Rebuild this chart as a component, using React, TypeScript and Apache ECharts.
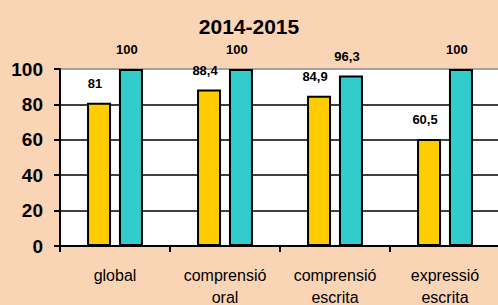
import React, { useEffect, useRef } from "react";
import * as echarts from "echarts";

const categories = ["global", "comprensió\noral", "comprensió\nescrita", "expressió\nescrita"];
const seriesA = [81, 88.4, 84.9, 60.5];
const seriesB = [100, 100, 96.3, 100];
const yTicks = { min: 0, max: 100, interval: 20 };
const title = "2014-2015";

const fmt = (v: number) => String(v).replace(".", ",");

export default function App() {
  const ref = useRef<HTMLDivElement>(null);
  useEffect(() => {
    document.body.style.margin = "0";
    const chart = echarts.init(ref.current!, null, { renderer: "svg" });
    const font = "'Liberation Sans', Arial, sans-serif";
    const label = {
      show: true,
      position: "top",
      distance: 13,
      offset: [-4, 0],
      fontFamily: font,
      fontWeight: "bold",
      fontSize: 13,
      color: "#000",
      formatter: (p: any) => fmt(p.value),
    };
    chart.setOption({
      animation: false,
      backgroundColor: "#FAD5B5",
      title: {
        text: title,
        left: "center",
        top: 11,
        textStyle: { fontFamily: font, fontWeight: "bold", fontSize: 21, color: "#000" },
      },
      grid: {
        left: 60,
        top: 69,
        bottom: 59,
        width: 440,
        show: true,
        backgroundColor: "#fff",
        borderColor: "#999",
        borderWidth: 1,
        containLabel: false,
        outerBoundsMode: "none",
      },
      xAxis: {
        type: "category",
        data: categories,
        axisLine: { lineStyle: { color: "#000", width: 2 } },
        axisTick: { show: true, length: 6, lineStyle: { color: "#000", width: 2 } },
        axisLabel: {
          interval: 0,
          margin: 18,
          fontFamily: font,
          fontSize: 16,
          lineHeight: 22,
          color: "#000",
        },
      },
      yAxis: {
        type: "value",
        min: yTicks.min,
        max: yTicks.max,
        interval: yTicks.interval,
        axisLine: { show: true, lineStyle: { color: "#000", width: 2 } },
        axisTick: { show: true, length: 6, lineStyle: { color: "#000", width: 2 } },
        axisLabel: {
          margin: 17,
          fontFamily: font,
          fontWeight: "bold",
          fontSize: 19,
          color: "#000",
        },
        splitLine: {
          show: true,
          lineStyle: { color: ["#000", "#000", "#000", "#000", "#000", "#999"], width: 1.6 },
        },
      },
      series: [
        {
          type: "bar",
          data: seriesA,
          barWidth: 24,
          barGap: "33%",
          itemStyle: { color: "#FFCC00", borderColor: "#000", borderWidth: 2 },
          label,
        },
        {
          type: "bar",
          data: seriesB,
          barWidth: 24,
          itemStyle: { color: "#33CCCC", borderColor: "#000", borderWidth: 2 },
          label,
        },
      ],
    });
    return () => chart.dispose();
  }, []);
  return <div ref={ref} style={{ width: 498, height: 305 }} />;
}
